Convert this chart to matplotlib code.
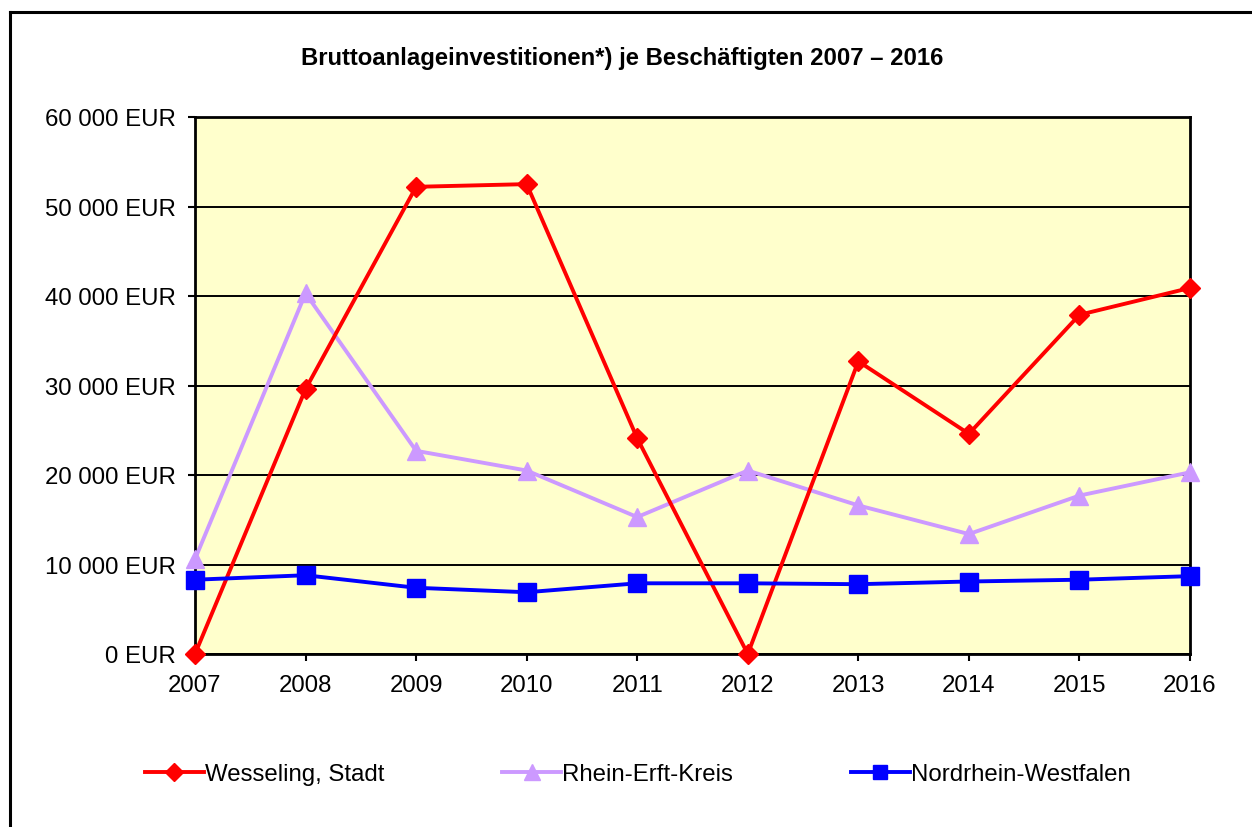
import matplotlib
matplotlib.use("Agg")
import matplotlib.pyplot as plt
from matplotlib.lines import Line2D
from matplotlib.ticker import FuncFormatter

plt.rcParams['font.family'] = ['Liberation Sans', 'DejaVu Sans']

years = [2007, 2008, 2009, 2010, 2011, 2012, 2013, 2014, 2015, 2016]
wesseling = [0, 29600, 52200, 52500, 24100, 0, 32700, 24600, 37900, 40900]
rhein_erft = [10600, 40300, 22700, 20500, 15300, 20500, 16600, 13400, 17700, 20300]
nrw = [8300, 8800, 7400, 6900, 7900, 7900, 7800, 8100, 8300, 8700]
series_names = ["Wesseling, Stadt", "Rhein-Erft-Kreis", "Nordrhein-Westfalen"]
title = "Bruttoanlageinvestitionen*) je Beschäftigten 2007 – 2016"
yticks = [0, 10000, 20000, 30000, 40000, 50000, 60000]

W, H = 1252, 828
fig = plt.figure(figsize=(W / 100, H / 100), dpi=100)
fig.patch.set_facecolor("white")

ax = fig.add_axes([195 / W, 1 - 655 / H, (1190 - 195) / W, (655 - 118) / H])
ax.set_facecolor("#FFFFCC")

ax.plot(years, wesseling, color="#FF0000", lw=2.8, marker="D", ms=10.5,
        label=series_names[0], clip_on=False, zorder=5)
ax.plot(years, rhein_erft, color="#CC99FF", lw=2.8, marker="^", ms=13,
        label=series_names[1], clip_on=False, zorder=4)
ax.plot(years, nrw, color="#0000FF", lw=2.8, marker="s", ms=12.5,
        label=series_names[2], clip_on=False, zorder=6)

ax.set_xlim(2007, 2016)
ax.set_ylim(0, 60000)
ax.set_xticks(years)
ax.set_yticks(yticks)
ax.yaxis.set_major_formatter(FuncFormatter(lambda v, p: f"{int(v):,}".replace(",", " ") + " EUR"))
ax.grid(axis="y", color="black", lw=1.4)
ax.set_axisbelow(True)
for s in ax.spines.values():
    s.set_linewidth(2)
    s.set_color("black")
ax.tick_params(axis="y", length=5, width=1.5, pad=9, labelsize=17.3)
ax.tick_params(axis="x", length=5, width=1.5, pad=9.5, labelsize=17.3)

fig.text(622 / W, 1 - 58 / H, title, ha="center", va="center",
         fontsize=17.2, fontweight="bold")

leg = fig.legend(loc="center left", bbox_to_anchor=(145 / W, 1 - 775 / H), ncol=3,
                 frameon=False, fontsize=17.3, handlelength=2.45, handletextpad=0.05,
                 columnspacing=4.9, borderaxespad=0, borderpad=0, markerscale=0.85)

# outer frame
fig.add_artist(Line2D([10 / W, 10 / W], [0, 1 - 13 / H], color="black", lw=2.2,
                      transform=fig.transFigure, solid_capstyle="projecting"))
fig.add_artist(Line2D([10 / W, 1.0], [1 - 13 / H, 1 - 13 / H], color="black", lw=2.2,
                      transform=fig.transFigure, solid_capstyle="projecting"))

fig.savefig("out.png", dpi=100)
